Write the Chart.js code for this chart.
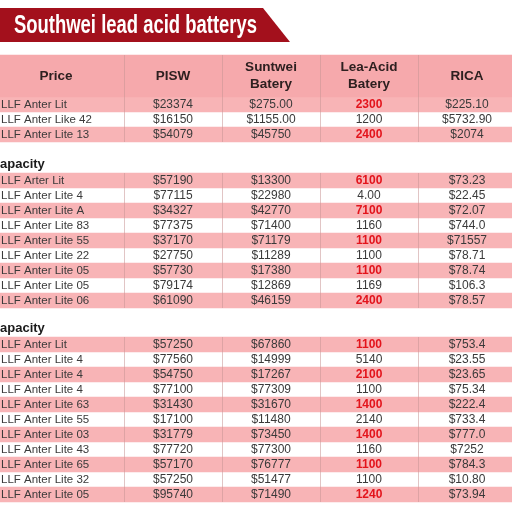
<!DOCTYPE html>
<html>
<head>
<meta charset="utf-8">
<script src="https://cdn.jsdelivr.net/npm/chart.js@4/dist/chart.umd.min.js"></script>
<style>
  html, body { margin: 0; padding: 0; background: #fff; }
  #wrap { width: 512px; height: 512px; }
</style>
</head>
<body>
<div id="wrap"><canvas id="tableChart" width="512" height="512"></canvas></div>
<script>
// table text
const title = 'Southwei lead acid batterys';
const headers = ['Price', 'PISW', 'Suntwei\nBatery', 'Lea-Acid\nBatery', 'RICA'];
const sectionTitles = ['', 'apacity', 'apacity'];

// section 1
const names1 = ['LLF Anter Lit', 'LLF Anter Like 42', 'LLF Anter Lite 13'];
const pisw1 = ['$23374', '$16150', '$54079'];
const suntwei1 = ['$275.00', '$1155.00', '$45750'];
const leadAcid1 = ['2300', '1200', '2400'];
const rica1 = ['$225.10', '$5732.90', '$2074'];

// section 2
const names2 = ['LLF Arter Lit', 'LLF Anter Lite 4', 'LLF Anter Lite A', 'LLF Anter Lite 83', 'LLF Anter Lite 55',
  'LLF Anter Lite 22', 'LLF Anter Lite 05', 'LLF Anter Lite 05', 'LLF Anter Lite 06'];
const pisw2 = ['$57190', '$77115', '$34327', '$77375', '$37170', '$27750', '$57730', '$79174', '$61090'];
const suntwei2 = ['$13300', '$22980', '$42770', '$71400', '$71179', '$11289', '$17380', '$12869', '$46159'];
const leadAcid2 = ['6100', '4.00', '7100', '1160', '1100', '1100', '1100', '1169', '2400'];
const rica2 = ['$73.23', '$22.45', '$72.07', '$744.0', '$71557', '$78.71', '$78.74', '$106.3', '$78.57'];

// section 3
const names3 = ['LLF Anter Lit', 'LLF Anter Lite 4', 'LLF Anter Lite 4', 'LLF Anter Lite 4', 'LLF Anter Lite 63',
  'LLF Anter Lite 55', 'LLF Anter Lite 03', 'LLF Anter Lite 43', 'LLF Anter Lite 65', 'LLF Anter Lite 32', 'LLF Anter Lite 05'];
const pisw3 = ['$57250', '$77560', '$54750', '$77100', '$31430', '$17100', '$31779', '$77720', '$57170', '$57250', '$95740'];
const suntwei3 = ['$67860', '$14999', '$17267', '$77309', '$31670', '$11480', '$73450', '$77300', '$76777', '$51477', '$71490'];
const leadAcid3 = ['1100', '5140', '2100', '1100', '1400', '2140', '1400', '1160', '1100', '1100', '1240'];
const rica3 = ['$753.4', '$23.55', '$23.65', '$75.34', '$222.4', '$733.4', '$777.0', '$7252', '$784.3', '$10.80', '$73.94'];

// layout (scale units = page pixels)
const colEdges = [0, 124, 222, 320, 418, 516];
const rowH = 15;
const sectionTops = [97, 173, 337];
const headerY = 76, headerH = 42;

const sections = [
  { names: names1, cols: [pisw1, suntwei1, leadAcid1, rica1] },
  { names: names2, cols: [pisw2, suntwei2, leadAcid2, rica2] },
  { names: names3, cols: [pisw3, suntwei3, leadAcid3, rica3] }
];

const stripeBars = [];
sections.forEach((s, si) => {
  s.names.forEach((n, ri) => {
    if (ri % 2 === 0) stripeBars.push({ y: sectionTops[si] + rowH * ri + rowH / 2, x: [0, colEdges[5]] });
  });
});

const tablePlugin = {
  id: 'tableText',
  beforeDatasetsDraw(chart) {
    const { ctx, scales: { x, y } } = chart;
    // title banner
    ctx.save();
    ctx.fillStyle = '#a3101c';
    ctx.beginPath();
    ctx.moveTo(x.getPixelForValue(0), y.getPixelForValue(8));
    ctx.lineTo(x.getPixelForValue(263), y.getPixelForValue(8));
    ctx.lineTo(x.getPixelForValue(290), y.getPixelForValue(42));
    ctx.lineTo(x.getPixelForValue(0), y.getPixelForValue(42));
    ctx.closePath();
    ctx.fill();
    ctx.restore();
  },
  afterDatasetsDraw(chart) {
    const { ctx, scales: { x, y } } = chart;
    ctx.save();
    // title
    ctx.fillStyle = '#ffffff';
    ctx.font = 'bold 25px "Liberation Sans", Arial, sans-serif';
    ctx.textBaseline = 'middle';
    ctx.textAlign = 'left';
    ctx.fillText(title, x.getPixelForValue(14), y.getPixelForValue(26), 243);

    // column dividers
    ctx.strokeStyle = 'rgba(200,150,150,0.55)';
    ctx.lineWidth = 1;
    const spans = [[55, sectionTops[0] + rowH * names1.length]];
    sections.forEach((s, si) => { if (si > 0) spans.push([sectionTops[si], sectionTops[si] + rowH * s.names.length]); });
    spans.forEach(([t, b]) => {
      for (let c = 1; c < 5; c++) {
        const px = Math.round(x.getPixelForValue(colEdges[c])) + 0.5;
        ctx.beginPath();
        ctx.moveTo(px, y.getPixelForValue(t));
        ctx.lineTo(px, y.getPixelForValue(b));
        ctx.stroke();
      }
    });

    // headers
    ctx.fillStyle = '#2e2020';
    ctx.font = 'bold 13.5px "Liberation Sans", Arial, sans-serif';
    ctx.textAlign = 'center';
    headers.forEach((h, i) => {
      const cx = i === 0 ? 56 : (colEdges[i] + colEdges[i + 1]) / 2;
      const lines = h.split('\n');
      lines.forEach((ln, li) => {
        const yy = headerY + (li - (lines.length - 1) / 2) * 17;
        ctx.fillText(ln, x.getPixelForValue(cx), y.getPixelForValue(yy));
      });
    });

    // section titles
    ctx.textAlign = 'left';
    ctx.font = 'bold 13px "Liberation Sans", Arial, sans-serif';
    ctx.fillStyle = '#1a1a1a';
    sections.forEach((s, si) => {
      if (sectionTitles[si]) ctx.fillText(sectionTitles[si], x.getPixelForValue(0), y.getPixelForValue(sectionTops[si] - 9));
    });

    // cells
    sections.forEach((s, si) => {
      s.names.forEach((n, ri) => {
        const cy = y.getPixelForValue(sectionTops[si] + rowH * ri + rowH / 2 + 0.5);
        const pink = ri % 2 === 0;
        ctx.font = '11.5px "Liberation Sans", Arial, sans-serif';
        ctx.fillStyle = '#3a3a3a';
        ctx.textAlign = 'left';
        ctx.fillText(n, x.getPixelForValue(1), cy, 118);
        s.cols.forEach((col, ci) => {
          const cx = x.getPixelForValue((colEdges[ci + 1] + colEdges[ci + 2]) / 2);
          ctx.textAlign = 'center';
          if (ci === 2 && pink) {
            ctx.fillStyle = '#e3141c';
            ctx.font = 'bold 12px "Liberation Sans", Arial, sans-serif';
          } else {
            ctx.fillStyle = '#3a3a3a';
            ctx.font = '12px "Liberation Sans", Arial, sans-serif';
          }
          ctx.fillText(col[ri], cx, cy);
        });
      });
    });
    ctx.restore();
  }
};

new Chart(document.getElementById('tableChart').getContext('2d'), {
  type: 'bar',
  data: {
    datasets: [{
      label: 'header',
      data: [{ y: headerY, x: [0, colEdges[5]] }],
      backgroundColor: '#f6a9ac',
      barThickness: headerH,
      grouped: false,
      borderWidth: 0
    }, {
      label: 'stripes',
      data: stripeBars,
      backgroundColor: '#f8b4b6',
      barThickness: rowH,
      grouped: false,
      borderWidth: 0
    }]
  },
  options: {
    indexAxis: 'y',
    responsive: false,
    animation: false,
    layout: { padding: 0 },
    scales: {
      x: { type: 'linear', min: 0, max: 512, offset: false, display: false },
      y: { type: 'linear', min: 0, max: 512, reverse: true, offset: false, display: false }
    },
    plugins: {
      legend: { display: false },
      tooltip: { enabled: false }
    }
  },
  plugins: [tablePlugin]
});
</script>
</body>
</html>
